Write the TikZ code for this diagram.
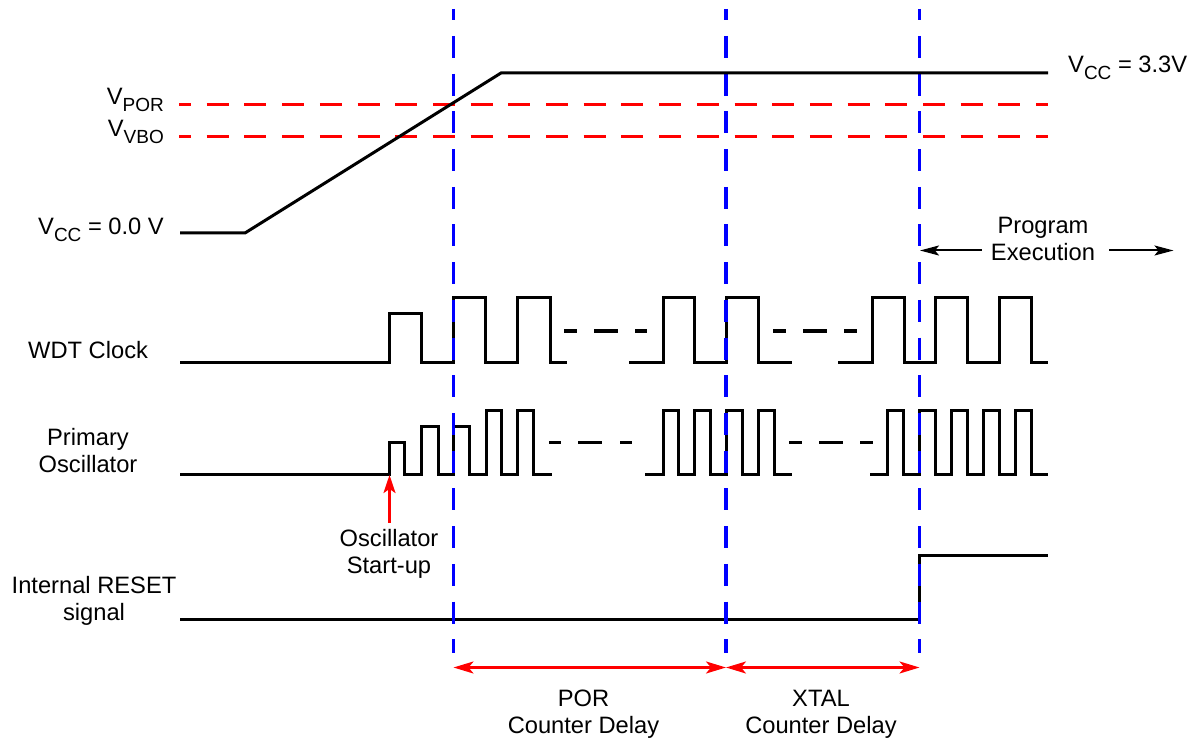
\documentclass[tikz,border=0pt]{standalone}
\usepackage{fontspec}
\setmainfont{Liberation Sans}
\usetikzlibrary{arrows.meta}
\newcommand\lbsub[1]{\raisebox{-0.28em}{\fontsize{19}{19}\selectfont #1}}
\begin{document}
\begin{tikzpicture}[x=1pt,y=-1pt,
  every node/.style={font=\fontsize{23.7}{27}\selectfont, inner sep=0pt, text=black},
  wave/.style={line width=3pt, line join=miter, black},
  gapdash/.style={line width=3pt, black},
  reddash/.style={red, line width=3pt, dash pattern=on 22pt off 15.7pt, dash phase=10.3pt},
  bluedash/.style={blue, line width=3.3pt, dash pattern=on 22pt off 15.7pt, dash phase=10.7pt},
  redarrow/.style={red, line width=2.4pt, {Stealth[length=20pt,width=12pt,inset=5pt]}-{Stealth[length=20pt,width=12pt,inset=5pt]}},
  redup/.style={red, line width=2.4pt, -{Stealth[length=18pt,width=12pt,inset=4pt]}},
  blkarrow/.style={black, line width=2pt, -{Stealth[length=19pt,width=10pt,inset=4pt]}}
]
\useasboundingbox (0,0) rectangle (1195,738);

% ---- WDT clock
\draw[wave] (180,362) -- (389,362) -- (389,314) -- (421.5,314) -- (421.5,362) -- (453.5,362) -- (453.5,297.5) -- (485,297.5) -- (485,362) -- (517,362) -- (517,297.5) -- (550,297.5) -- (550,362) -- (567,362);
\draw[gapdash] (564,331) -- (577,331) (594,331) -- (618,331) (635,331) -- (647,331);
\draw[wave] (629,362) -- (663,362) -- (663,297.5) -- (694.5,297.5) -- (694.5,362) -- (726,362) -- (726,297.5) -- (758,297.5) -- (758,362) -- (792,362);
\draw[gapdash] (773,331) -- (786,331) (803,331) -- (827,331) (844,331) -- (857,331);
\draw[wave] (838,362) -- (872,362) -- (872,297.5) -- (904,297.5) -- (904,362) -- (935.5,362) -- (935.5,297.5) -- (967,297.5) -- (967,362) -- (999,362) -- (999,297.5) -- (1031,297.5) -- (1031,362) -- (1048,362);

% ---- Primary oscillator
\draw[wave] (180,474.5) -- (389,474.5) -- (389,442) -- (404.5,442) -- (404.5,474.5) -- (421,474.5) -- (421,426) -- (438.5,426) -- (438.5,474.5) -- (453.5,474.5) -- (453.5,426) -- (469.5,426) -- (469.5,474.5) -- (486,474.5) -- (486,410) -- (501.5,410) -- (501.5,474.5) -- (517.5,474.5) -- (517.5,410) -- (533.5,410) -- (533.5,474.5) -- (551.5,474.5);
\draw[gapdash] (549,442) -- (561,442) (578,442) -- (602,442) (620,442) -- (632,442);
\draw[wave] (645,474.5) -- (663,474.5) -- (663,410) -- (678.5,410) -- (678.5,474.5) -- (694,474.5) -- (694,410) -- (710,410) -- (710,474.5) -- (726,474.5) -- (726,410) -- (742,410) -- (742,474.5) -- (758.5,474.5) -- (758.5,410) -- (774,410) -- (774,474.5) -- (791.5,474.5);
\draw[gapdash] (789,442) -- (802,442) (819,442) -- (843,442) (860,442) -- (873,442);
\draw[wave] (870,474.5) -- (887,474.5) -- (887,410) -- (903,410) -- (903,474.5) -- (919.5,474.5) -- (919.5,410) -- (935,410) -- (935,474.5) -- (951,474.5) -- (951,410) -- (967,410) -- (967,474.5) -- (983,474.5) -- (983,410) -- (999,410) -- (999,474.5) -- (1015,474.5) -- (1015,410) -- (1031,410) -- (1031,474.5) -- (1048,474.5);

% ---- Internal reset
\draw[wave] (180,619.5) -- (919.5,619.5) -- (919.5,555) -- (1048,555);

% ---- blue markers
\draw[bluedash] (453.5,9) -- (453.5,653);
\draw[bluedash] (726,9) -- (726,653);
\draw[bluedash] (919.5,9) -- (919.5,653);

% ---- thresholds
\draw[reddash] (179.3,105) -- (1048,105);
\draw[reddash] (179.3,137) -- (1048,137);

% ---- Vcc ramp
\draw[wave] (180,233) -- (245,233) -- (501,73) -- (1048,73);

% ---- labels
\node[anchor=base west] (vcchi) at (1068,72.5) {V\lbsub{CC} = 3.3V};
\node[anchor=base east] (vpor) at (164,105) {V\lbsub{POR}};
\node[anchor=base east] (vvbo) at (164,137) {V\lbsub{VBO}};
\node[anchor=base east] (vcclo) at (164,235) {V\lbsub{CC} = 0.0 V};
\node[anchor=base west] (wdt) at (28,358.5) {WDT Clock};
\node[anchor=north, align=center] (posc) at (88,428.5) {Primary\\Oscillator};
\node[anchor=north, align=center] (irst) at (94,576) {Internal RESET\\signal};
\node[anchor=north, align=center] (oscst) at (389,529.5) {Oscillator\\Start-up};
\node[anchor=north, align=center] (pexec) at (1043,216.5) {Program\\Execution};
\node[anchor=north, align=center] (por) at (583.5,690) {POR\\Counter Delay};
\node[anchor=north, align=center] (xtal) at (821,690) {XTAL\\Counter Delay};

% ---- arrows
\coordinate (a1) at (453.5,667.5);
\coordinate (a2) at (726,667.5);
\coordinate (a3) at (919.5,667.5);
\draw[redarrow] (a1) -- (a2);
\draw[redarrow] (a2) -- (a3);
\coordinate (upfrom) at (389.5,522.5);
\coordinate (upto) at (389.5,475);
\draw[redup] (upfrom) -- (upto);
\coordinate (pl1) at (981.5,250.5);
\coordinate (pl2) at (920,250.5);
\coordinate (pr1) at (1109,250.5);
\coordinate (pr2) at (1173.5,250.5);
\draw[blkarrow] (pl1) -- (pl2);
\draw[blkarrow] (pr1) -- (pr2);
\end{tikzpicture}
\end{document}
